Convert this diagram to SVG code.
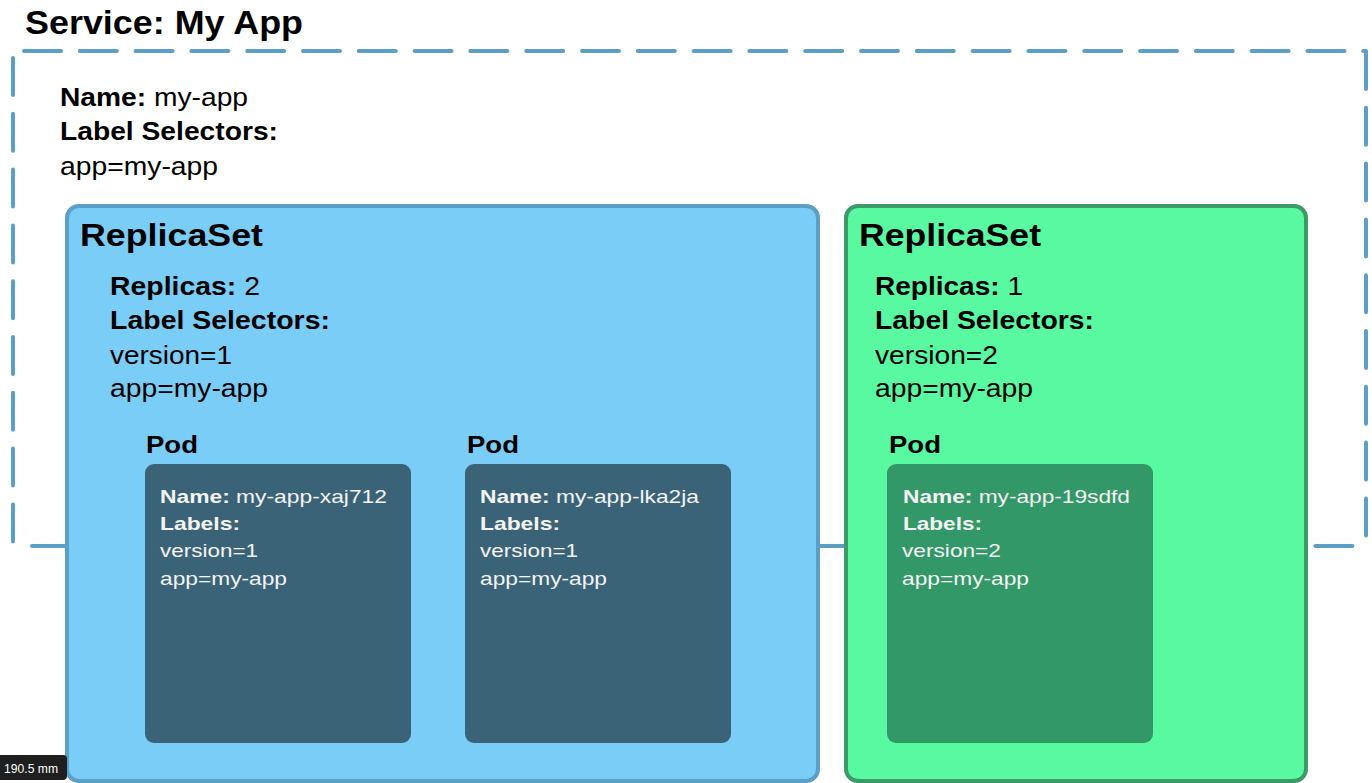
<svg xmlns="http://www.w3.org/2000/svg" width="1372" height="783" viewBox="0 0 1372 783">
<style>
.t{font-family:"Liberation Sans",Arial,Helvetica,sans-serif;fill:#000}
.b{font-weight:bold}
.w{fill:#f4f4f4}
.dash{fill:none;stroke:#5b9fc4;stroke-width:4;stroke-linecap:round;stroke-dasharray:37 18.8}
.rsb{fill:#79cdf6;stroke:#5b9fc4;stroke-width:4}
.rsg{fill:#58f9a1;stroke:#3b9a68;stroke-width:4}
.podb{fill:#3a6378}
.podg{fill:#339867}
.f33{font-size:33px}.f31{font-size:31px}.f25{font-size:25px}.f24{font-size:24px}.f19{font-size:19px}
</style>
<rect width="1372" height="783" fill="#ffffff"/>
<g id="service">
<path class="dash" d="M24 51 H1366"/>
<path class="dash" d="M1366 52 V545"/>
<path class="dash" d="M13 58 V545"/>
<path class="dash" d="M32 546 H1360"/>
<text class="t b f33" x="25" y="34" textLength="278" lengthAdjust="spacingAndGlyphs">Service: My App</text>
<text class="t f25" x="60" y="106" textLength="188" lengthAdjust="spacingAndGlyphs"><tspan class="b">Name:</tspan> my-app</text>
<text class="t b f25" x="60" y="140" textLength="218" lengthAdjust="spacingAndGlyphs">Label Selectors:</text>
<text class="t f25" x="60" y="175" textLength="158" lengthAdjust="spacingAndGlyphs">app=my-app</text>
</g>
<g id="connectors"></g>
<g id="replicaset-1">
<rect class="rsb" x="67" y="206" width="751" height="575" rx="12"/>
<text class="t b f31" x="80" y="246" textLength="183" lengthAdjust="spacingAndGlyphs">ReplicaSet</text>
<text class="t f25" x="110" y="295" textLength="150" lengthAdjust="spacingAndGlyphs"><tspan class="b">Replicas:</tspan> 2</text>
<text class="t b f25" x="110" y="329" textLength="220" lengthAdjust="spacingAndGlyphs">Label Selectors:</text>
<text class="t f25" x="110" y="364" textLength="122" lengthAdjust="spacingAndGlyphs">version=1</text>
<text class="t f25" x="110" y="397" textLength="158" lengthAdjust="spacingAndGlyphs">app=my-app</text>
</g>
<g id="pod-1">
<text class="t b f24" x="146" y="453" textLength="52" lengthAdjust="spacingAndGlyphs">Pod</text>
<rect class="podb" x="145" y="464" width="266" height="279" rx="9"/>
<text class="t w f19" x="160" y="503" textLength="227" lengthAdjust="spacingAndGlyphs"><tspan class="b">Name:</tspan> my-app-xaj712</text>
<text class="t w b f19" x="160" y="530" textLength="80" lengthAdjust="spacingAndGlyphs">Labels:</text>
<text class="t w f19" x="160" y="557" textLength="98" lengthAdjust="spacingAndGlyphs">version=1</text>
<text class="t w f19" x="160" y="585" textLength="127" lengthAdjust="spacingAndGlyphs">app=my-app</text>
</g>
<g id="pod-2">
<text class="t b f24" x="467" y="453" textLength="52" lengthAdjust="spacingAndGlyphs">Pod</text>
<rect class="podb" x="465" y="464" width="266" height="279" rx="9"/>
<text class="t w f19" x="480" y="503" textLength="219" lengthAdjust="spacingAndGlyphs"><tspan class="b">Name:</tspan> my-app-lka2ja</text>
<text class="t w b f19" x="480" y="530" textLength="80" lengthAdjust="spacingAndGlyphs">Labels:</text>
<text class="t w f19" x="480" y="557" textLength="98" lengthAdjust="spacingAndGlyphs">version=1</text>
<text class="t w f19" x="480" y="585" textLength="127" lengthAdjust="spacingAndGlyphs">app=my-app</text>
</g>
<g id="replicaset-2">
<rect class="rsg" x="846" y="206" width="460" height="575" rx="12"/>
<text class="t b f31" x="859" y="246" textLength="182" lengthAdjust="spacingAndGlyphs">ReplicaSet</text>
<text class="t f25" x="875" y="295" textLength="148" lengthAdjust="spacingAndGlyphs"><tspan class="b">Replicas:</tspan> 1</text>
<text class="t b f25" x="875" y="329" textLength="219" lengthAdjust="spacingAndGlyphs">Label Selectors:</text>
<text class="t f25" x="875" y="364" textLength="123" lengthAdjust="spacingAndGlyphs">version=2</text>
<text class="t f25" x="875" y="397" textLength="158" lengthAdjust="spacingAndGlyphs">app=my-app</text>
</g>
<g id="pod-3">
<text class="t b f24" x="889" y="453" textLength="52" lengthAdjust="spacingAndGlyphs">Pod</text>
<rect class="podg" x="887" y="464" width="266" height="279" rx="9"/>
<text class="t w f19" x="903" y="503" textLength="227" lengthAdjust="spacingAndGlyphs"><tspan class="b">Name:</tspan> my-app-19sdfd</text>
<text class="t w b f19" x="903" y="530" textLength="79" lengthAdjust="spacingAndGlyphs">Labels:</text>
<text class="t w f19" x="902" y="557" textLength="99" lengthAdjust="spacingAndGlyphs">version=2</text>
<text class="t w f19" x="902" y="585" textLength="127" lengthAdjust="spacingAndGlyphs">app=my-app</text>
</g>
<g id="badge">
<rect x="-6" y="755" width="73" height="25" rx="4" fill="#1f1f1f"/>
<text class="t" x="4" y="773" font-size="13" textLength="54" lengthAdjust="spacingAndGlyphs" style="fill:#ffffff">190.5 mm</text>
</g>
</svg>
